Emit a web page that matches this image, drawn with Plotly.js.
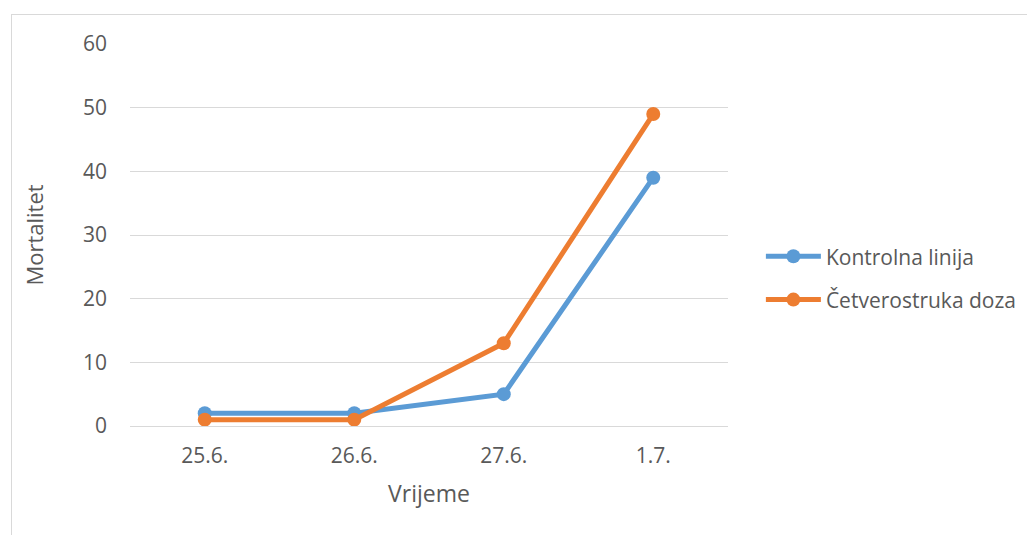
<!DOCTYPE html>
<html>
<head>
<meta charset="utf-8">
<script src="https://cdn.plot.ly/plotly-3.0.1.min.js"></script>
<style>
html,body{margin:0;padding:0;background:#fff;}
#frame{position:absolute;left:11px;top:14px;width:1030px;height:540px;border:1px solid #d9d9d9;box-sizing:border-box;}
#chart{position:absolute;left:0;top:0;width:1027px;height:535px;}
</style>
</head>
<body>
<div id="frame"></div>
<div id="chart"></div>
<script>
const categories = ["25.6.", "26.6.", "27.6.", "1.7."];
const kontrolna = [2, 2, 5, 39];
const cetverostruka = [1, 1, 13, 49];
const seriesNames = ["Kontrolna linija", "Četverostruka doza"];
const yTicks = [0, 10, 20, 30, 40, 50, 60];

const fontFam = "Open Sans, sans-serif";
const txt = "#595959";

const traces = [
  {x: categories, y: kontrolna, name: seriesNames[0], type: "scatter", mode: "lines+markers",
   line: {color: "#5b9bd5", width: 5}, marker: {color: "#5b9bd5", size: 14}, legendgroup: "a"},
  {x: categories, y: cetverostruka, name: seriesNames[1], type: "scatter", mode: "lines+markers",
   line: {color: "#ed7d31", width: 5}, marker: {color: "#ed7d31", size: 14}, legendgroup: "b"}
];

const layout = {
  width: 1027, height: 535,
  margin: {l: 130, r: 299, t: 44, b: 109, autoexpand: false},
  paper_bgcolor: "rgba(0,0,0,0)",
  plot_bgcolor: "rgba(0,0,0,0)",
  font: {family: fontFam, color: txt, size: 20},
  showlegend: true,
  legend: {x: 1.055, xanchor: "left", y: 0.387, yanchor: "middle",
           font: {family: fontFam, size: 21, color: txt}, itemwidth: 55,
           tracegroupgap: 13, bgcolor: "rgba(0,0,0,0)"},
  xaxis: {type: "category", categoryorder: "array", categoryarray: categories,
          range: [-0.5, 3.5], showgrid: false, zeroline: false, showline: false,
          ticks: "", ticklabelstandoff: 15, tickfont: {size: 21, color: txt},
          title: {text: "Vrijeme", font: {size: 23, color: txt}, standoff: 17}},
  yaxis: {range: [0, 60], tickvals: yTicks, ticktext: yTicks.map(String),
          showgrid: true, gridcolor: "#d9d9d9", gridwidth: 1, zeroline: true,
          zerolinecolor: "#d9d9d9", zerolinewidth: 1, showline: false, ticks: "",
          ticklabelstandoff: 22, tickfont: {size: 21, color: txt},
          title: {text: "Mortalitet", font: {size: 22, color: txt}, standoff: 33}}
};

Plotly.newPlot("chart", traces, layout, {displayModeBar: false, staticPlot: true});
</script>
</body>
</html>
